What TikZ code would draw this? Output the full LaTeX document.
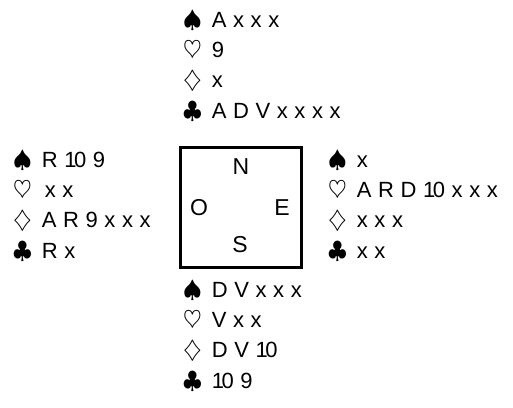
\documentclass[tikz,border=0pt]{standalone}
\usepackage{fix-cm}
\usepackage{fontspec}
\setmainfont{Liberation Sans}
\newfontfamily\handfont[LetterSpace=30]{Liberation Sans}
\newcommand{\suit}[1]{{\fontsize{24}{24}\selectfont$#1$}\hspace{10pt}}
\newcommand{\pik}{\suit{\spadesuit}}
\newcommand{\coeur}{\suit{\heartsuit}}
\newcommand{\karo}{\suit{\diamondsuit}}
\newcommand{\treff}{\suit{\clubsuit}}
\newcommand{\ten}{1\kern-2.5pt 0}

\begin{document}
\begin{tikzpicture}[x=1pt,y=1pt,yscale=-1,xscale=1,
	hand/.style={anchor=base west,inner sep=0pt,font=\handfont\fontsize{22}{25}\selectfont},
	wind/.style={inner sep=0pt,font=\fontsize{23}{27}\selectfont}]
	\useasboundingbox (0,0) rectangle (513,407);

	% Table
	\node (table) [draw,line width=3pt,minimum width=121,minimum height=120,inner sep=0pt] at (240.5,207) {};
	\node (n) [wind] at (241,167) {N};
	\node (o) [wind] at (199,208) {O};
	\node (e) [wind] at (282,208) {E};
	\node (s) [wind] at (240,245) {S};

	% Nord
	\node (north1) [hand] at (183,27) {\pik Axxx};
	\node (north2) [hand] at (183,57.3) {\coeur 9};
	\node (north3) [hand] at (183,87.6) {\karo x};
	\node (north4) [hand] at (183,118) {\treff ADVxxxx};
	% Ouest
	\node (west1) [hand] at (13,167) {\pik R\ten 9};
	\node (west2) [hand] at (13,197.3) {\coeur\hspace{3pt}xx};
	\node (west3) [hand] at (13,227.6) {\karo AR9xxx};
	\node (west4) [hand] at (13,258) {\treff Rx};
	% Est
	\node (east1) [hand] at (328,167) {\pik x};
	\node (east2) [hand] at (328,197.3) {\coeur ARD\ten xxx};
	\node (east3) [hand] at (328,227.6) {\karo xxx};
	\node (east4) [hand] at (328,258) {\treff xx};
	% Sud
	\node (south1) [hand] at (183,297) {\pik DVxxx};
	\node (south2) [hand] at (183,327.3) {\coeur Vxx};
	\node (south3) [hand] at (183,357.6) {\karo DV\ten};
	\node (south4) [hand] at (183,388) {\treff \ten 9};
\end{tikzpicture}
\end{document}
